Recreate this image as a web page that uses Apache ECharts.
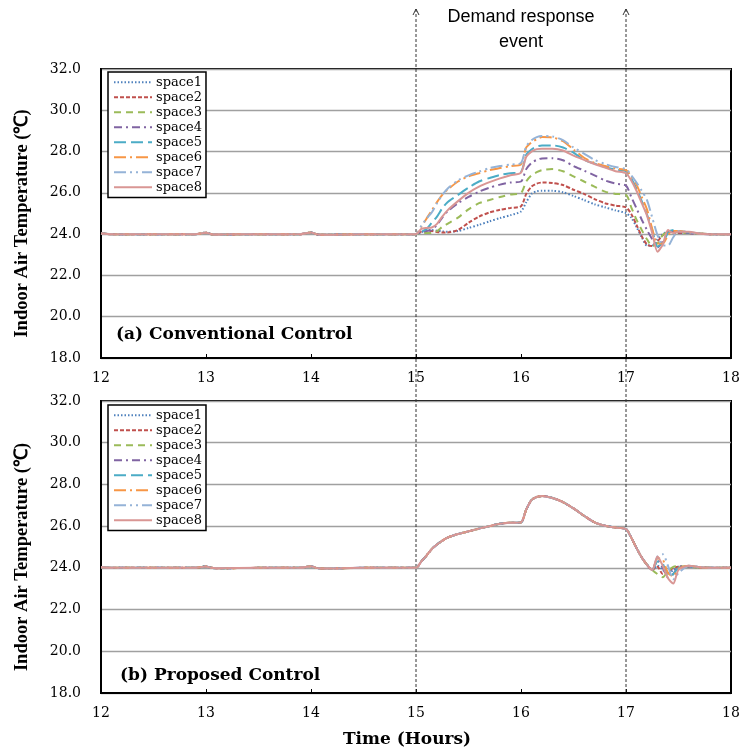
<!DOCTYPE html>
<html>
<head>
<meta charset="utf-8">
<script src="https://cdn.jsdelivr.net/npm/echarts@6/dist/echarts.min.js"></script>
<style>
html,body{margin:0;padding:0;background:#fff;}
#chart{width:744px;height:749px;}
</style>
</head>
<body>
<div id="chart"></div>
<script>
// ---- Data ----
const seriesNames = ['space1','space2','space3','space4','space5','space6','space7','space8'];
const xTicks = [12, 13, 14, 15, 16, 17, 18];
const yTicks = [18, 20, 22, 24, 26, 28, 30, 32];

// Baseline period 12:00-15:00 (same for all spaces)
const preTimes = [12.0, 12.1, 12.5, 12.9, 13.0, 13.05, 13.1, 13.5, 13.9, 14.0, 14.05, 14.1, 14.5, 14.95];
const preTemps = [24.03, 24.0, 24.0, 24.0, 24.07, 24.0, 23.98, 24.0, 24.0, 24.08, 24.0, 23.97, 24.0, 24.0];

// Event period times 15:00-18:00
const eventTimes = [15.0, 15.05, 15.1, 15.15, 15.2, 15.25, 15.3, 15.4, 15.5, 15.6, 15.7, 15.8, 15.9,
  16.0, 16.05, 16.1, 16.15, 16.2, 16.3, 16.4, 16.5, 16.6, 16.7, 16.8, 16.9,
  17.0, 17.05, 17.1, 17.15, 17.2, 17.25, 17.3, 17.35, 17.4, 17.45, 17.5, 17.6, 17.7, 17.8, 18.0];

// (a) Conventional control
const convSpace1 = [24.0, 24.1, 24.17, 24.2, 24.17, 24.13, 24.12, 24.15, 24.3, 24.45, 24.62, 24.78, 24.92,
  25.1, 25.55, 25.95, 26.08, 26.1, 26.1, 26.03, 25.85, 25.65, 25.45, 25.3, 25.15,
  25.02, 24.8, 24.35, 23.85, 23.45, 23.45, 23.75, 24.0, 24.12, 24.1, 24.05, 24.05, 24.02, 24.0, 24.0];
const convSpace2 = [24.0, 24.12, 24.18, 24.15, 24.1, 24.08, 24.08, 24.2, 24.55, 24.85, 25.05, 25.18, 25.27,
  25.35, 25.95, 26.3, 26.45, 26.5, 26.48, 26.38, 26.15, 25.95, 25.7, 25.5, 25.38,
  25.3, 24.98, 24.45, 23.9, 23.5, 23.42, 23.65, 23.95, 24.1, 24.1, 24.05, 24.05, 24.02, 24.0, 24.0];
const convSpace3 = [24.0, 24.05, 24.05, 24.05, 24.15, 24.35, 24.5, 24.8, 25.2, 25.5, 25.65, 25.8, 25.92,
  26.0, 26.55, 26.85, 27.0, 27.1, 27.15, 27.05, 26.8, 26.55, 26.3, 26.06, 25.95,
  25.9, 25.3, 24.7, 24.2, 23.75, 23.42, 23.55, 23.95, 24.1, 24.12, 24.08, 24.05, 24.02, 24.0, 24.0];
const convSpace4 = [24.0, 24.1, 24.15, 24.2, 24.45, 24.8, 25.1, 25.5, 25.8, 26.06, 26.25, 26.4, 26.5,
  26.55, 27.15, 27.45, 27.6, 27.67, 27.68, 27.58, 27.3, 27.08, 26.85, 26.6, 26.45,
  26.35, 25.8, 25.25, 24.7, 24.2, 23.75, 23.35, 23.65, 24.05, 24.15, 24.1, 24.05, 24.02, 24.0, 24.0];
const convSpace5 = [24.0, 24.12, 24.25, 24.55, 24.85, 25.25, 25.55, 25.9, 26.25, 26.55, 26.72, 26.87, 26.95,
  27.02, 27.85, 28.1, 28.25, 28.3, 28.3, 28.2, 27.95, 27.6, 27.42, 27.25, 27.12,
  27.05, 26.7, 26.2, 25.6, 24.95, 24.2, 23.4, 23.6, 24.05, 24.2, 24.15, 24.08, 24.03, 24.0, 24.0];
const convSpace6 = [24.0, 24.35, 24.75, 25.15, 25.55, 25.9, 26.15, 26.55, 26.8, 26.95, 27.1, 27.2, 27.3,
  27.38, 28.2, 28.45, 28.6, 28.7, 28.68, 28.5, 28.1, 27.7, 27.45, 27.3, 27.18,
  27.1, 26.8, 26.4, 25.8, 25.2, 24.25, 23.55, 23.55, 23.95, 24.15, 24.15, 24.08, 24.03, 24.0, 24.0];
const convSpace7 = [24.0, 24.4, 24.75, 25.05, 25.5, 25.9, 26.2, 26.6, 26.85, 27.03, 27.2, 27.3, 27.37,
  27.45, 28.25, 28.55, 28.7, 28.75, 28.73, 28.55, 28.2, 27.9, 27.6, 27.4, 27.25,
  27.15, 26.85, 26.5, 26.1, 25.65, 24.8, 23.95, 23.45, 23.45, 23.85, 24.15, 24.1, 24.03, 24.0, 24.0];
const convSpace8 = [24.0, 24.25, 24.3, 24.32, 24.5, 24.85, 25.15, 25.6, 26.0, 26.3, 26.52, 26.7, 26.85,
  26.98, 27.75, 28.0, 28.12, 28.14, 28.14, 28.05, 27.8, 27.6, 27.4, 27.22, 27.05,
  26.95, 26.6, 26.1, 25.5, 24.9, 24.05, 23.15, 23.5, 24.2, 24.05, 24.12, 24.12, 24.02, 24.0, 24.0];

// (b) Proposed control: common path 15.0-17.25, then per-space tails 17.3-18.0
const propShared = [24.0, 24.3, 24.59, 24.9, 25.12, 25.3, 25.45, 25.62, 25.75, 25.88, 26.0, 26.12, 26.16,
  26.18, 26.8, 27.25, 27.4, 27.45, 27.35, 27.15, 26.85, 26.5, 26.18, 26.02, 25.93,
  25.86, 25.45, 24.95, 24.5, 24.15, 23.9];
const propTail1 = [24.1, 23.9, 23.7, 23.9, 24.05, 24.05, 24.02, 24.0, 24.0];
const propTail2 = [24.05, 23.7, 23.8, 24.0, 24.05, 24.05, 24.02, 24.0, 24.0];
const propTail3 = [23.7, 23.55, 23.85, 24.05, 24.08, 24.05, 24.02, 24.0, 24.0];
const propTail4 = [24.35, 24.0, 23.55, 23.7, 24.05, 24.08, 24.03, 24.0, 24.0];
const propTail5 = [24.3, 24.2, 23.6, 23.7, 24.0, 24.08, 24.03, 24.0, 24.0];
const propTail6 = [24.45, 24.4, 23.75, 23.6, 23.95, 24.1, 24.03, 24.0, 24.0];
const propTail7 = [24.55, 24.65, 24.1, 23.45, 23.75, 24.1, 24.05, 24.0, 24.0];
const propTail8 = [24.55, 24.1, 23.5, 23.25, 23.9, 24.1, 24.03, 24.0, 24.0];

// ---- Styles ----
const colors = ['#4F81BD','#C0504D','#9BBB59','#8064A2','#4BACC6','#F79646','#95B3D7','#D99694'];
const dashes = [[1.5,2], [4,2], [7,5], [8,4,2,4], [12,5], [12,4,2,4], [12,4,2,4,2,4], 'solid'];

const convData = [convSpace1, convSpace2, convSpace3, convSpace4, convSpace5, convSpace6, convSpace7, convSpace8];
const propTails = [propTail1, propTail2, propTail3, propTail4, propTail5, propTail6, propTail7, propTail8];

function buildPairs(eventVals) {
  const pts = preTimes.map((t, i) => [t, preTemps[i]]);
  eventTimes.forEach((t, i) => pts.push([t, eventVals[i]]));
  return pts;
}

const serif = '"DejaVu Serif", serif';
const series = [];
seriesNames.forEach((name, i) => {
  const common = {
    name: name, type: 'line', showSymbol: false, symbol: 'none', smooth: 0.25,
    lineStyle: { color: colors[i], width: 2, type: dashes[i], cap: 'butt' },
    itemStyle: { color: colors[i] },
    emphasis: { disabled: true }
  };
  series.push(Object.assign({}, common, { xAxisIndex: 0, yAxisIndex: 0, data: buildPairs(convData[i]) }));
  series.push(Object.assign({}, common, { xAxisIndex: 1, yAxisIndex: 1, data: buildPairs(propShared.concat(propTails[i])) }));
});

function xAxisCfg(gi, withName) {
  return {
    type: 'value', gridIndex: gi, min: xTicks[0], max: xTicks[xTicks.length - 1], interval: 1,
    axisLine: { show: true, lineStyle: { color: '#000', width: 2 } },
    axisTick: { show: true, inside: true, length: 4, lineStyle: { color: '#000', width: 1 } },
    axisLabel: { color: '#000', fontFamily: serif, fontSize: 14, margin: 13 },
    splitLine: { show: false },
    name: withName ? 'Time (Hours)' : '',
    nameLocation: 'middle', nameGap: 38,
    nameTextStyle: { color: '#000', fontFamily: serif, fontWeight: 'bold', fontSize: 17, padding: [0, 18, 0, 0] }
  };
}
function yAxisCfg(gi) {
  return {
    type: 'value', gridIndex: gi, min: yTicks[0], max: yTicks[yTicks.length - 1], interval: 2,
    axisLine: { show: true, lineStyle: { color: '#000', width: 2 } },
    axisTick: { show: false },
    axisLabel: { color: '#000', fontFamily: serif, fontSize: 14, margin: 20, formatter: v => v.toFixed(1) },
    splitLine: { show: true, lineStyle: { color: '#A0A0A0', width: 1.3 } },
    name: 'Indoor Air Temperature (\u2103)',
    nameLocation: 'middle', nameGap: 69,
    nameTextStyle: { color: '#000', fontFamily: '"Liberation Serif", serif', fontWeight: 'bold', fontSize: 18.5, padding: [0, 20, 0, 0] }
  };
}
function legendCfg(top) {
  return {
    data: seriesNames, orient: 'vertical', left: 108, top: top,
    itemWidth: 38, itemHeight: 12, itemGap: 0.5,
    padding: [3, 4, 3, 5],
    backgroundColor: '#fff', borderColor: '#000', borderWidth: 1.5, borderRadius: 0,
    itemStyle: { color: 'rgba(0,0,0,0)', borderColor: 'rgba(0,0,0,0)', borderWidth: 0, opacity: 0 },
    textStyle: { color: '#000', fontFamily: serif, fontSize: 13, lineHeight: 14.5, padding: [0, 0, 0, -1] },
    selectedMode: false
  };
}

const chart = echarts.init(document.getElementById('chart'), null, { renderer: 'canvas' });
chart.setOption({
  animation: false,
  backgroundColor: '#fff',
  grid: [
    { left: 101, right: 13, top: 69, height: 289, show: true, borderColor: '#000', borderWidth: 2, backgroundColor: 'transparent' },
    { left: 101, right: 13, top: 401, height: 295, show: true, borderColor: '#000', borderWidth: 2, backgroundColor: 'transparent' }
  ],
  xAxis: [xAxisCfg(0, false), xAxisCfg(1, true)],
  yAxis: [yAxisCfg(0), yAxisCfg(1)],
  legend: [legendCfg(72), legendCfg(405)],
  title: [
    { text: '(a) Conventional Control', left: 116, top: 326, padding: 0,
      textStyle: { color: '#000', fontFamily: serif, fontWeight: 'bold', fontSize: 17 } },
    { text: '(b) Proposed Control', left: 120, top: 667, padding: 0,
      textStyle: { color: '#000', fontFamily: serif, fontWeight: 'bold', fontSize: 17 } }
  ],
  series: series
});

// Demand-response event markers, positioned through the axis scales
const x15 = chart.convertToPixel({ xAxisIndex: 0 }, 15);
const x17 = chart.convertToPixel({ xAxisIndex: 0 }, 17);
const yEnd = chart.convertToPixel({ yAxisIndex: 1 }, 18);
const yTip = 9;
const g = [];
[x15, x17].forEach(x => {
  g.push({ type: 'line', z: 1, silent: true, shape: { x1: x, y1: yTip, x2: x, y2: yEnd },
    style: { stroke: '#333', lineWidth: 1, lineDash: [3, 2] } });
  g.push({ type: 'polyline', z: 1, silent: true, shape: { points: [[x - 3, yTip + 6], [x, yTip], [x + 3, yTip + 6]] },
    style: { stroke: '#333', lineWidth: 1, fill: null } });
});
g.push({ type: 'text', silent: true, x: (x15 + x17) / 2, y: 29.5,
  style: { text: 'Demand response\nevent', font: '18px "Liberation Sans", Arial, sans-serif',
    fill: '#000', textAlign: 'center', textVerticalAlign: 'middle', lineHeight: 25 } });
chart.setOption({ graphic: g });
</script>
</body>
</html>
